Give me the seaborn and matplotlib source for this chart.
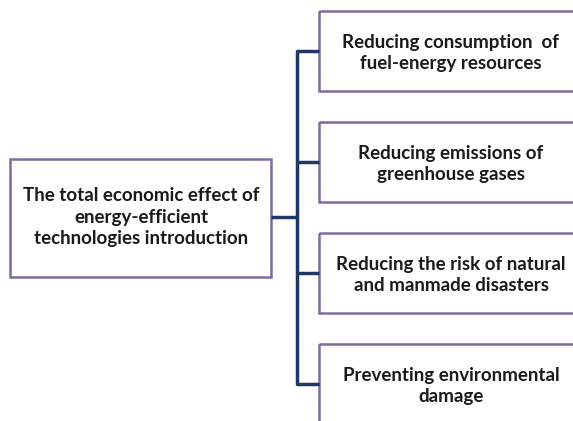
import matplotlib.pyplot as plt
from matplotlib.patches import Rectangle
import seaborn as sns

sns.set_theme(style='white')
plt.rcParams['font.family'] = ['Lato', 'DejaVu Sans']

main_label = "The total economic effect of\nenergy-efficient\ntechnologies introduction"
effects = [
    "Reducing consumption  of\nfuel-energy resources",
    "Reducing emissions of\ngreenhouse gases",
    "Reducing the risk of natural\nand manmade disasters",
    "Preventing environmental\ndamage",
]

fig = plt.figure(figsize=(5.73, 4.21), dpi=100)
ax = fig.add_axes([0, 0, 1, 1])
ax.set_xlim(0, 573)
ax.set_ylim(421, 0)
ax.axis('off')

box_col = '#7f6a9e'
line_col = '#1f3864'

# main box
ax.add_patch(Rectangle((10, 159), 261, 118, fill=False, ec=box_col, lw=1.8))
ax.text(141, 217, main_label, ha='center', va='center', fontsize=13.5,
        fontweight='bold', color='#1a1a1a', linespacing=1.3)

# right boxes
tops = [11, 122, 233, 344]
h = 80
mids = []
for top, lab in zip(tops, effects):
    ax.add_patch(Rectangle((319, top), 270, h, fill=False, ec=box_col, lw=1.8,
                           clip_on=True))
    mid = top + h / 2
    mids.append(mid)
    ax.text(451, mid + 2, lab, ha='center', va='center', fontsize=13.5,
            fontweight='bold', color='#1a1a1a', linespacing=1.25)

# connectors
ax.plot([271, 297], [217, 217], color=line_col, lw=2.5, solid_capstyle='butt')
ax.plot([297, 297], [mids[0], mids[-1]], color=line_col, lw=2.5)
for m in mids:
    ax.plot([297, 319], [m, m], color=line_col, lw=2.5, solid_capstyle='butt')

fig.savefig('out.png', dpi=100)
